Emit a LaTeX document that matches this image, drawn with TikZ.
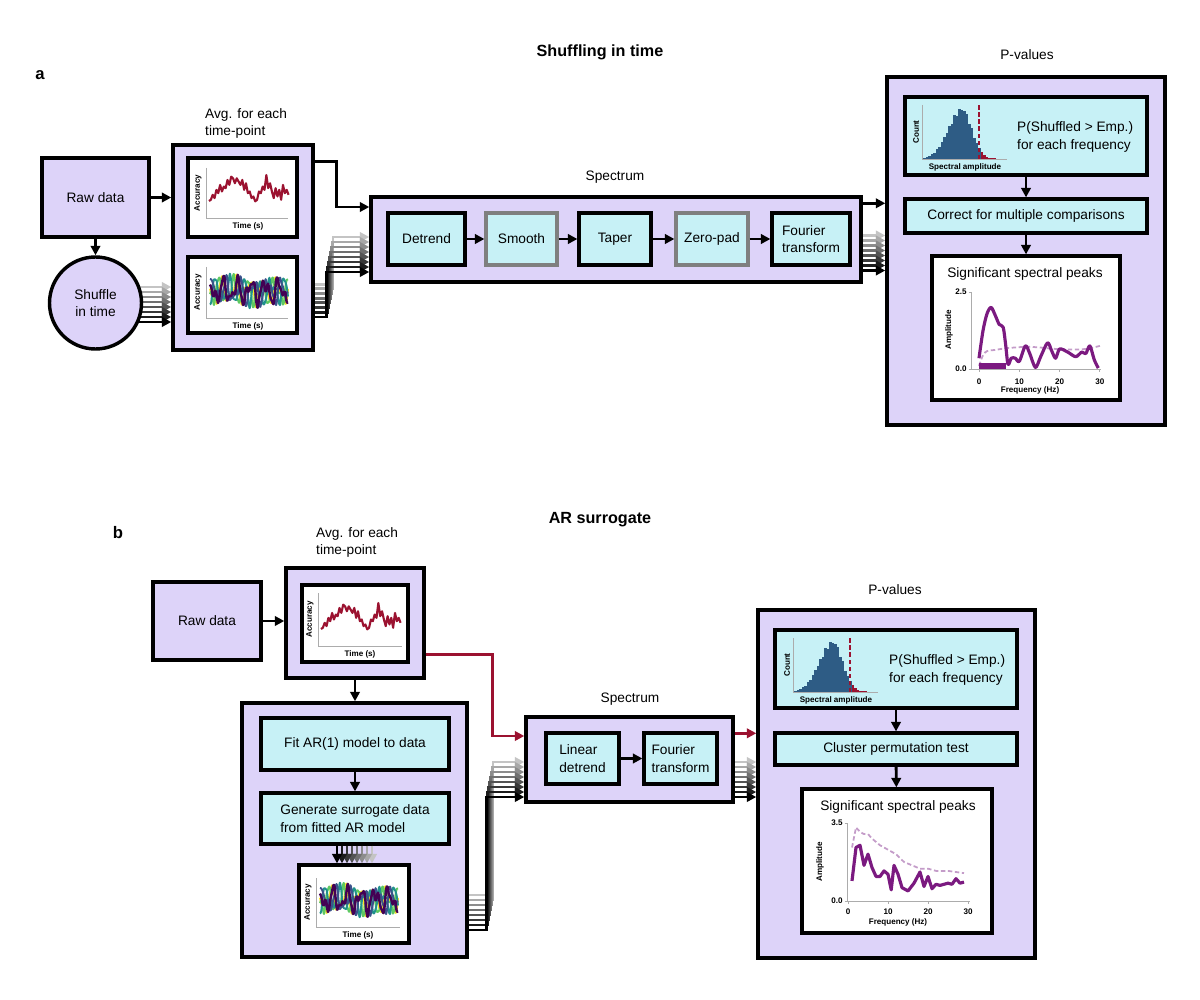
\documentclass[tikz,border=0pt]{standalone}
\usepackage{fontspec}
\setmainfont{Liberation Sans}
\usetikzlibrary{arrows.meta,calc,backgrounds}
\definecolor{lav}{HTML}{DDD3F9}
\definecolor{cyb}{HTML}{C7F1F6}
\definecolor{graybd}{HTML}{7F7F7F}
\definecolor{darkred}{HTML}{9B1230}
\definecolor{purp}{HTML}{7B1A80}
\definecolor{pinkd}{HTML}{C49CC9}
\definecolor{histblue}{HTML}{2E5C85}
\definecolor{vA}{HTML}{440154}
\definecolor{vB}{HTML}{3B528B}
\definecolor{vC}{HTML}{21918C}
\definecolor{vD}{HTML}{5EC962}
\definecolor{vE}{HTML}{FDE725}

% box node from corner (x1,y1) to (x2,y2) in px units
\newcommand\bx[7]{%
  \node[#1,minimum width={(#5-#3)*0.02cm},minimum height={(#6-#4)*0.02cm}] (#2) at ({(#3+#5)/2},{(#4+#6)/2}) {#7};}
\newcommand\accaxes[4]{%
  \draw[axisln] (#1,#2-#4) -- (#1,#2) -- (#1+#3,#2);
  \node[tinylab,rotate=90] at (#1-8,#2-#4/2) {Accuracy};
  \node[tinylab] at (#1+42,#2+8) {Time (s)};
}
\newcommand\redseries[2]{%
  \draw[darkred,line width=1.2pt,line join=round] (#1+3,#2-17)
  \foreach \v [count=\i] in {0.25,0.4,0.3,0.55,0.45,0.7,0.5,0.65,0.6,0.85,0.7,0.95,0.9,0.75,0.9,0.8,0.7,0.85,0.55,0.75,0.45,0.5,0.3,0.35,0.2,0.25,0.5,0.45,0.65,0.55,1.0,0.6,0.75,0.5,0.3,0.6,0.35,0.55,0.25,0.7,0.45,0.55,0.4}
  { -- ({#1+3+\i*1.85},{#2-10-\v*33}) };
}
\newcommand\virseries[2]{%
  \foreach \c/\p/\w in {vE/40/1.1,vD/110/1.1,vC/200/1.1,vB/290/1.1,vA/0/1.4}{
    \draw[\c,line width=\w pt,line join=round] plot[domain=4:82,samples=60,smooth]
      ({#1+\x},{#2-27-9*sin(\x*26+\p)-6*sin(\x*47+2*\p)-3*sin(\x*83+3*\p)});
  }
}
\newcommand\histo[2]{%
  \foreach \i in {0,...,31}{
    \pgfmathsetmacro\xx{1+\i*2.5}
    \pgfmathsetmacro\ss{\xx<39 ? 14 : 9}
    \pgfmathsetmacro\hh{exp(-((\xx-39)^2)/(2*\ss*\ss))*(49+3*sin(\i*157)) + 3*exp(-abs(\xx-56)/8)}
    \pgfmathtruncatemacro\isred{\xx>=56.5 ? 1 : 0}
    \ifnum\isred=1 \def\hc{darkred}\else\def\hc{histblue}\fi
    \fill[\hc] (#1+\xx,#2) rectangle (#1+\xx+2.6,#2-\hh);
  }
  \draw[darkred,dash pattern=on 2.5pt off 1.5pt,line width=0.9pt] (#1+57,#2) -- (#1+57,#2-54);
  \draw[axisln] (#1,#2-54) -- (#1,#2) -- (#1+85,#2);
  \node[tinylab,rotate=90] at (#1-6,#2-27) {Count};
  \node[tinylab] at (#1+43,#2+8) {Spectral amplitude};
}

\begin{document}
\begin{tikzpicture}[x=0.02cm,y=-0.02cm,
  lavbox/.style={draw=black,line width=1.95pt,fill=lav,inner sep=0pt},
  cyabox/.style={draw=black,line width=1.85pt,fill=cyb,inner sep=0pt},
  grybox/.style={cyabox,draw=graybd},
  plotbox/.style={draw=black,line width=1.85pt,fill=white,inner sep=0pt},
  txt/.style={font=\fontsize{7.8}{9.8}\selectfont},
  ttl/.style={font=\fontsize{9.2}{11}\selectfont\bfseries},
  panlab/.style={font=\fontsize{9.5}{11}\selectfont\bfseries},
  tinylab/.style={font=\fontsize{4.6}{5}\selectfont\bfseries,inner sep=0pt},
  ticklab/.style={font=\fontsize{4.6}{5}\selectfont\bfseries,inner sep=0pt},
  axisln/.style={draw=gray!65,line width=0.5pt},
  arr/.style={line width=1.65pt,-{Triangle[length=5.4pt,width=5.4pt]}},
]
\useasboundingbox (0,0) rectangle (1200,1000);

% ================= panel a =================
\node[panlab] (la) at (40,75) {a};
\node[ttl] (ta) at (600,52) {Shuffling in time};

\bx{lavbox,txt}{rawA}{42}{158}{149}{237}{Raw data}
\node[lavbox,circle,minimum size=92*0.02cm,txt,align=center] (shufA) at (95.5,303) {Shuffle\\in time};

\bx{lavbox}{avgA}{173}{145}{313}{350}{}
\node[txt,align=left,anchor=north west] (avgAl) at (199,102) {Avg. for each\\time-point};
\bx{plotbox}{pA1}{188}{158}{297}{237}{}
\bx{plotbox}{pA2}{188}{257}{297}{333}{}
\redseries{206}{218}
\accaxes{206}{218}{82}{50}
\virseries{206}{318}
\accaxes{206}{318}{82}{51}

\bx{lavbox}{specA}{371}{197}{861}{282}{}
\node[txt] (specAl) at (615,177) {Spectrum};
\bx{cyabox,txt}{detA}{388}{213}{465}{265}{Detrend}
\bx{grybox,txt}{smoA}{486}{213}{557}{265}{Smooth}
\bx{cyabox,txt}{tapA}{579}{213}{651}{265}{Taper}
\bx{grybox,txt}{zerA}{676}{213}{748}{265}{Zero-pad}
\bx{cyabox,txt,align=left}{fouA}{772}{213}{850}{265}{Fourier\\transform}
\draw[arr] (detA) -- (smoA);
\draw[arr] (smoA) -- (tapA);
\draw[arr] (tapA) -- (zerA);
\draw[arr] (zerA) -- (fouA);

\bx{lavbox}{pvA}{887}{77}{1165}{425}{}
\node[txt] (pvAl) at (1027,55) {P-values};
\bx{cyabox}{histA}{905}{97}{1147}{175}{}
\histo{922}{159}
\node[txt,align=left,anchor=west] (pA) at (1011,137) {P(Shuffled > Emp.)\\for each frequency};
\bx{cyabox,txt}{corA}{905}{199}{1147}{233}{Correct for multiple comparisons}
\bx{plotbox}{sigA}{932}{256}{1120}{400}{}
\node[txt] (sigAl) at (1025,274) {Significant spectral peaks};
\draw[arr] (histA) -- (corA);
\draw[arr] (corA) -- (sigA);

\begin{scope}[shift={(971,369)}]
  \draw[axisln] (0,-77) -- (0,0) -- (130,0);
  \foreach \t in {0,-77} \draw[axisln] (-2.5,\t) -- (0,\t);
  \foreach \f in {0,10,20,30} {
    \draw[axisln] ({8+4.03*\f},0) -- ++(0,2.5);
    \node[ticklab] at ({8+4.03*\f},13) {\f};
  }
  \node[ticklab,anchor=east] at (-4,-77) {2.5};
  \node[ticklab,anchor=east] at (-4,0) {0.0};
  \node[tinylab,rotate=90] at (-22,-39) {Amplitude};
  \node[tinylab] at (59,21) {Frequency (Hz)};
  \begin{scope}[shift={(8,0)},xscale=4.03,yscale=30.8]
    \draw[pinkd,dash pattern=on 2.5pt off 1.5pt,line width=1pt] plot[smooth] coordinates
      {(0,-0.1) (1,-0.45) (2,-0.58) (4,-0.62) (6,-0.66) (9,-0.7) (12,-0.72) (15,-0.7) (18,-0.66) (21,-0.64) (24,-0.63) (27,-0.66) (30,-0.75)};
    \draw[purp,line width=1.8pt,line join=round] plot[smooth,tension=0.5] coordinates
      {(0,-0.35) (1,-1.25) (2,-1.8) (3,-2.0) (4,-1.75) (5,-1.45) (6,-1.35) (6.6,-0.8) (7.2,-0.15) (8,-0.35) (9,-0.35) (10,-0.25) (11.5,-0.75) (12.6,-0.5) (14,-0.05) (15.3,-0.4) (17,-0.85) (18,-0.6) (19,-0.35) (20,-0.65) (22,-0.55) (24,-0.4) (25.5,-0.55) (26.5,-0.5) (27.5,-0.75) (28.6,-0.3) (29.6,-0.03)};
    \draw[purp,line width=3pt] (0,-0.1) -- (6.6,-0.1);
  \end{scope}
\end{scope}

\draw[arr] (rawA) -- (rawA -| avgA.west);
\draw[arr] (rawA) -- (shufA);
\draw[arr] ($(avgA.north east)+(0,18)$) -- ++(22,0) |- ($(specA.west)+(0,-32.5)$);
\draw[arr] ($(specA.north east)+(0,8)$) coordinate (q) -- (q -| pvA.west);

% ================= panel b =================
\node[panlab] (lb) at (118,533) {b};
\node[ttl] (tb) at (600,520) {AR surrogate};

\bx{lavbox,txt}{rawB}{153}{582}{261}{660}{Raw data}
\bx{lavbox}{avgB}{286}{568}{424}{678}{}
\node[txt,align=left,anchor=north west] (avgBl) at (310,521) {Avg. for each\\time-point};
\bx{plotbox}{pB1}{302}{585}{408}{662}{}
\redseries{318}{646}
\accaxes{318}{646}{84}{53}

\bx{lavbox}{arB}{242}{703}{467}{957}{}
\bx{cyabox,txt}{fitB}{261}{718}{449}{770}{Fit AR(1) model to data}
\bx{cyabox,txt,align=left}{genB}{261}{793}{449}{844}{Generate surrogate data\\from fitted AR model}
\bx{plotbox}{pB2}{299}{865}{409}{943}{}
\virseries{316}{927}
\accaxes{316}{927}{84}{49}

\bx{lavbox}{specB}{526}{717}{733}{802}{}
\node[txt] (specBl) at (630,699) {Spectrum};
\bx{cyabox,txt,align=left}{ldB}{546}{733}{619}{784}{Linear\\detrend}
\bx{cyabox,txt,align=left}{fouB}{644}{733}{717}{784}{Fourier\\transform}
\draw[arr] (ldB) -- (fouB);

\bx{lavbox}{pvB}{758}{610}{1035}{958}{}
\node[txt] (pvBl) at (895,590) {P-values};
\bx{cyabox}{histB}{775}{630}{1017}{708}{}
\histo{793}{692}
\node[txt,align=left,anchor=west] (pB) at (883,670) {P(Shuffled > Emp.)\\for each frequency};
\bx{cyabox,txt}{cluB}{775}{733}{1017}{765}{Cluster permutation test}
\bx{plotbox}{sigB}{802}{789}{992}{933}{}
\node[txt] (sigBl) at (898,807) {Significant spectral peaks};
\draw[arr] (histB) -- (cluB);
\draw[arr] (cluB) -- (sigB);

\begin{scope}[shift={(847,901)}]
  \draw[axisln] (0,-78) -- (0,0) -- (123,0);
  \foreach \t in {0,-78} \draw[axisln] (-2.5,\t) -- (0,\t);
  \foreach \f in {0,10,20,30} {
    \draw[axisln] ({1+4*\f},0) -- ++(0,2.5);
    \node[ticklab] at ({1+4*\f},11) {\f};
  }
  \node[ticklab,anchor=east] at (-4,-78) {3.5};
  \node[ticklab,anchor=east] at (-4,0) {0.0};
  \node[tinylab,rotate=90] at (-27,-39) {Amplitude};
  \node[tinylab] at (51,21) {Frequency (Hz)};
  \begin{scope}[shift={(1,0)},xscale=4,yscale=22.3]
    \draw[pinkd,dash pattern=on 2.5pt off 1.5pt,line width=1pt,line join=round] plot coordinates
      {(1,-2.4) (2,-3.3) (3,-3.1) (4,-3.0) (5,-3.0) (6,-2.8) (8,-2.5) (10,-2.3) (12,-2.1) (14,-1.75) (16,-1.6) (18,-1.45) (20,-1.45) (22,-1.35) (25,-1.35) (27,-1.3) (29,-1.25)};
    \draw[purp,line width=1.8pt,line join=round] plot coordinates
      {(1,-0.9) (2,-2.4) (3,-2.5) (4,-1.6) (5,-2.1) (6,-1.5) (7,-1.1) (8,-1.1) (9,-1.35) (10,-1.2) (10.8,-0.5) (11.5,-1.6) (12.5,-1.2) (13.5,-0.6) (15,-0.45) (16.5,-0.8) (18,-1.3) (19,-0.65) (20,-1.1) (21,-0.55) (22,-0.75) (23,-0.7) (25,-0.8) (26,-0.75) (27,-1.0) (28,-0.8) (29,-0.85)};
  \end{scope}
\end{scope}

\draw[arr] (rawB) -- (rawB -| avgB.west);
\draw[arr] (avgB.south) -- (avgB.south |- arB.north);
\draw[arr] (fitB) -- (genB);
\draw[arr,draw=darkred] ($(avgB.south east)+(0,-25)$) -- ++(67,0) |- ($(specB.west)+(0,-23.5)$);
\draw[arr,draw=darkred] ($(specB.north east)+(0,18)$) coordinate (r) -- (r -| pvB.west);

\foreach \k in {7,...,0}{
  \pgfmathtruncatemacro\lv{100-11*\k}
  \draw[arr,draw=black!\lv] ($(genB.south)+({-18+5*\k},0)$) coordinate (s) -- (s |- pB2.north);
}

% ================= stacked (shadowed) arrows, behind boxes =================
\begin{scope}[on background layer]
  \fill[white] (0,0) rectangle (1200,1000);
  \foreach \k in {7,...,0}{
    \pgfmathtruncatemacro\lv{100-11*\k}
    \draw[arr,draw=black!\lv] ($(shufA.center)+(0,{19-5*\k})$) coordinate (s) -- (s -| avgA.west);
    \draw[arr,draw=black!\lv] ($(avgA.east)+(-10,{69.5-4.7*\k})$) -- ++({22+0.9*\k},0) |- ($(specA.west)+(0,{32.5-5*\k})$);
    \draw[arr,draw=black!\lv] ($(specA.east)+(-5,{31-5*\k})$) coordinate (s) -- (s -| pvA.west);
    \draw[arr,draw=black!\lv] ($(arB.east)+(-5,{100-5*\k})$) -- ++({23+0.9*\k},0) |- ($(specB.west)+(0,{37.5-5*\k})$);
    \draw[arr,draw=black!\lv] ($(specB.east)+(-5,{37.5-5*\k})$) coordinate (s) -- (s -| pvB.west);
  }
\end{scope}
\end{tikzpicture}
\end{document}
